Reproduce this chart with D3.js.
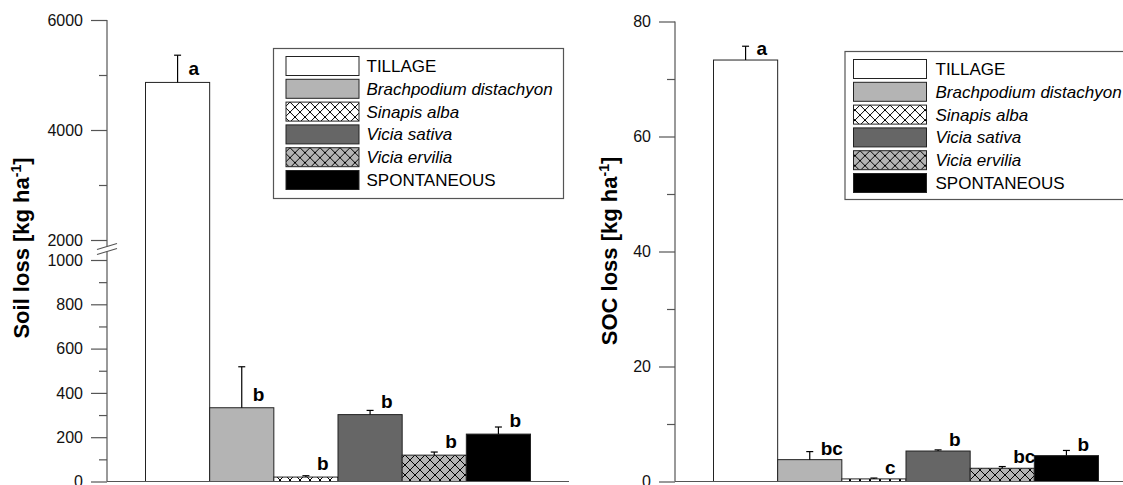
<!DOCTYPE html>
<html>
<head>
<meta charset="utf-8">
<script src="https://cdn.jsdelivr.net/npm/d3@7"></script>
<style>
  html, body { margin: 0; padding: 0; background: #fff; }
  svg { display: block; font-family: "Liberation Sans", Arial, sans-serif; }
</style>
</head>
<body>
<svg id="chart" width="1123" height="485"></svg>
<script>
// Treatments (order of bars and legend rows)
const treatments = ["TILLAGE", "Brachpodium distachyon", "Sinapis alba", "Vicia sativa", "Vicia ervilia", "SPONTANEOUS"];
const italicNames = [false, true, true, true, true, false];

// Soil loss [kg ha-1]: mean, standard error, significance letters
const soilLoss = [4865, 333, 20, 302, 119, 214];
const soilLossSE = [495, 185, 6, 19, 14, 32];
const soilLetters = ["a", "b", "b", "b", "b", "b"];
const soilTicksMajor = [0, 200, 400, 600, 800, 1000, 2000, 4000, 6000];
const soilTicksMinor = [100, 300, 500, 700, 900, 3000, 5000];

// SOC loss [kg ha-1]: mean, standard error, significance letters
const socLoss = [73.3, 3.8, 0.45, 5.3, 2.3, 4.5];
const socLossSE = [2.4, 1.4, 0.15, 0.2, 0.3, 0.9];
const socLetters = ["a", "bc", "c", "b", "bc", "b"];
const socTicksMajor = [0, 20, 40, 60, 80];
const socTicksMinor = [10, 30, 50, 70];

const svg = d3.select("#chart");
const defs = svg.append("defs");

// Cross-hatch fills
function hatch(id, bg) {
  const p = defs.append("pattern")
    .attr("id", id).attr("patternUnits", "userSpaceOnUse")
    .attr("width", 10).attr("height", 10);
  p.append("rect").attr("width", 10).attr("height", 10).attr("fill", bg);
  p.append("path").attr("d", "M-1,-1L11,11M11,-1L-1,11")
    .attr("stroke", "#000").attr("stroke-width", 1).attr("fill", "none");
}
hatch("hatchWhite", "#ffffff");
hatch("hatchGray", "#b4b4b4");

const fills = ["#ffffff", "#b4b4b4", "url(#hatchWhite)", "#666666", "url(#hatchGray)", "#000000"];

const AXIS_COLOR = "#555";
const BASE_Y = 481.5;

function drawPanel(cfg) {
  const g = svg.append("g");
  const x = d3.scaleBand().domain(treatments)
    .range([cfg.axisX, cfg.axisX + 462]).paddingInner(0).paddingOuter(0.6);
  const y = cfg.y;

  // bars
  g.selectAll("rect.bar").data(treatments).join("rect")
    .attr("class", "bar")
    .attr("x", d => x(d))
    .attr("width", x.bandwidth())
    .attr("y", (d, i) => y(cfg.values[i]))
    .attr("height", (d, i) => BASE_Y - y(cfg.values[i]))
    .attr("fill", (d, i) => fills[i])
    .attr("stroke", "#222").attr("stroke-width", 1);

  // error bars (upper only)
  const eb = g.selectAll("g.err").data(treatments).join("g").attr("class", "err");
  eb.append("line")
    .attr("x1", d => x(d) + x.bandwidth() / 2).attr("x2", d => x(d) + x.bandwidth() / 2)
    .attr("y1", (d, i) => y(cfg.values[i]))
    .attr("y2", (d, i) => y(cfg.values[i] + cfg.se[i]))
    .attr("stroke", "#000").attr("stroke-width", 1.2);
  eb.append("line")
    .attr("x1", d => x(d) + x.bandwidth() / 2 - 3.5).attr("x2", d => x(d) + x.bandwidth() / 2 + 3.5)
    .attr("y1", (d, i) => y(cfg.values[i] + cfg.se[i]))
    .attr("y2", (d, i) => y(cfg.values[i] + cfg.se[i]))
    .attr("stroke", "#000").attr("stroke-width", 1.2);

  // significance letters
  g.selectAll("text.letter").data(treatments).join("text")
    .attr("class", "letter")
    .attr("x", d => x(d) + x.bandwidth() / 2 + 11)
    .attr("y", (d, i) => y(cfg.values[i]) - cfg.letterGap)
    .attr("font-size", 19).attr("font-weight", "bold").attr("fill", "#000")
    .text((d, i) => cfg.letters[i]);

  // x axis baseline
  g.append("line")
    .attr("x1", cfg.axisX).attr("x2", cfg.axisX + 462)
    .attr("y1", BASE_Y).attr("y2", BASE_Y)
    .attr("stroke", AXIS_COLOR).attr("stroke-width", 1.2);

  // y axis: major ticks with labels, minor ticks without
  const ax = g.append("g").attr("transform", `translate(${cfg.axisX},0)`);
  ax.call(d3.axisLeft(y).tickValues(cfg.major).tickSize(16).tickPadding(8).tickFormat(d3.format("d")));
  ax.append("g").call(d3.axisLeft(y).tickValues(cfg.minor).tickSize(8).tickFormat(""));
  ax.selectAll("path.domain").remove();
  ax.selectAll(".tick line").attr("stroke", AXIS_COLOR).attr("stroke-width", 1.2);
  ax.selectAll(".tick text").attr("font-size", 16).attr("fill", "#111")
    .attr("font-family", "Liberation Sans, Arial, sans-serif");

  // axis line, possibly broken
  cfg.segments.forEach(s => {
    ax.append("line").attr("x1", 0).attr("x2", 0)
      .attr("y1", s[0]).attr("y2", s[1])
      .attr("stroke", AXIS_COLOR).attr("stroke-width", 1.2);
  });
  (cfg.breakMarks || []).forEach(by => {
    ax.append("line").attr("x1", -10).attr("x2", 10)
      .attr("y1", by + 3).attr("y2", by - 3)
      .attr("stroke", AXIS_COLOR).attr("stroke-width", 1.2);
  });

  // y axis title
  const t = g.append("text")
    .attr("transform", `translate(${cfg.titleX},${cfg.titleY}) rotate(-90)`)
    .attr("text-anchor", "middle")
    .attr("font-size", 22).attr("font-weight", "bold").attr("fill", "#000");
  t.append("tspan").text(cfg.title + " [kg ha");
  t.append("tspan").attr("font-size", 14).attr("dy", -8).text("-1");
  t.append("tspan").attr("dy", 8).text("]");

  // legend
  const L = cfg.legend;
  const lg = g.append("g");
  lg.append("rect")
    .attr("x", L.x).attr("y", L.y).attr("width", 290).attr("height", L.h)
    .attr("fill", "#fff").attr("stroke", AXIS_COLOR).attr("stroke-width", 1.2);
  const rows = lg.selectAll("g.row").data(treatments).join("g").attr("class", "row")
    .attr("transform", (d, i) => `translate(0,${L.y + L.first + i * 22.8})`);
  rows.append("rect")
    .attr("x", L.x + L.sw).attr("y", 0).attr("width", 73).attr("height", 19)
    .attr("fill", (d, i) => fills[i]).attr("stroke", "#222").attr("stroke-width", 1);
  rows.append("text")
    .attr("x", L.x + L.sw + 73 + L.tx).attr("y", 9.5).attr("dy", "0.35em")
    .attr("font-size", 17).attr("fill", "#000")
    .attr("font-style", (d, i) => italicNames[i] ? "italic" : "normal")
    .text(d => d);
}

drawPanel({
  axisX: 107,
  y: d3.scaleLinear().domain([0, 1000, 2000, 6000]).range([BASE_Y, 260, 240, 20]),
  values: soilLoss, se: soilLossSE, letters: soilLetters, letterGap: 7,
  major: soilTicksMajor, minor: soilTicksMinor,
  segments: [[20, 246.5], [251.5, BASE_Y]],
  breakMarks: [246.5, 251.5],
  title: "Soil loss", titleX: 29, titleY: 248,
  legend: { x: 273.5, y: 48.5, h: 150, first: 8, sw: 12.5, tx: 7.5 }
});

drawPanel({
  axisX: 675,
  y: d3.scaleLinear().domain([0, 80]).range([BASE_Y, 21.5]),
  values: socLoss, se: socLossSE, letters: socLetters, letterGap: 5,
  major: socTicksMajor, minor: socTicksMinor,
  segments: [[21.5, BASE_Y]],
  title: "SOC loss", titleX: 617, titleY: 251,
  legend: { x: 845, y: 51.5, h: 148, first: 8, sw: 8.5, tx: 9 }
});
</script>
</body>
</html>
